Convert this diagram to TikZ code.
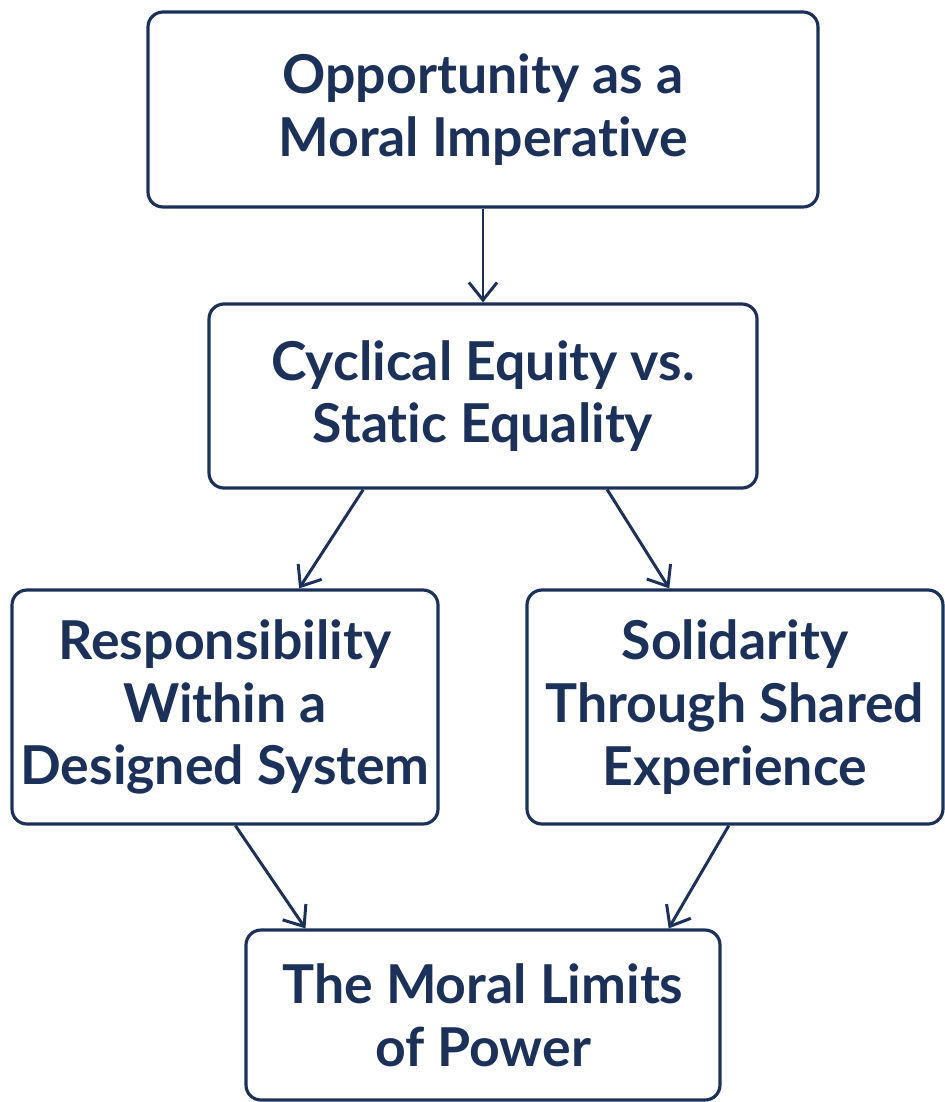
\documentclass[tikz,border=0pt]{standalone}
\usepackage{fontspec}
\setmainfont{Lato}[Ligatures=NoCommon]
\usetikzlibrary{arrows.meta}
\definecolor{navy}{RGB}{27,49,90}
\begin{document}
\begin{tikzpicture}[
    box/.style={draw=navy,line width=1.8pt,rounded corners=0.3cm,text=navy,align=center,
      font=\fontsize{30.5}{35.7}\selectfont\bfseries,inner sep=0pt},
    link/.style={draw=navy,line width=1.7pt,-{Straight Barb[length=10pt,width=16pt,line width=1.7pt]}}]
      \useasboundingbox (0,0) rectangle (18.9,-22.04);
      \node[box,minimum width=13.4cm,minimum height=3.9cm] (top) at (9.66,-2.19) {Opportunity as a\\Moral Imperative};
      \node[box,minimum width=10.96cm,minimum height=3.68cm] (cyc) at (9.66,-7.92) {Cyclical Equity vs.\\Static Equality};
      \node[box,minimum width=8.52cm,minimum height=4.68cm] (resp) at (4.5,-14.14) {Responsibility\\Within a\\Designed System};
      \node[box,minimum width=8.32cm,minimum height=4.68cm] (soli) at (14.7,-14.14) {Solidarity\\Through Shared\\Experience};
      \node[box,minimum width=9.48cm,minimum height=3.4cm] (lim) at (9.66,-20.3) {The Moral Limits\\of Power};
      \draw[link] (top.south) -- (cyc.north);
      \draw[link] (cyc.218) -- (resp.58);
      \draw[link] (cyc.323) -- (soli.119);
      \draw[link] (resp.275) -- (lim.154.5);
      \draw[link] (soli.267.5) -- (lim.25.9);
    \end{tikzpicture}
\end{document}
